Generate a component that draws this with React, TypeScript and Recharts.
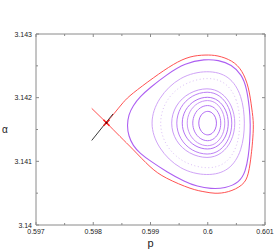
import { ComposedChart, Scatter, XAxis, YAxis, ReferenceArea } from "recharts";

type Pt = [number, number];

// axis ticks (major + minor), labels only on majors
const xTicks = [0.597, 0.5975, 0.598, 0.5985, 0.599, 0.5995, 0.6, 0.6005, 0.601];
const xLabels = ["0.597", "0.598", "0.599", "0.6", "0.601"];
const yTicks = [3.14, 3.1405, 3.141, 3.1415, 3.142, 3.1425, 3.143];
const yLabels = ["3.14", "3.141", "3.142", "3.143"];

// hyperbolic point
const saddle: Pt[] = [[0.598231, 3.141606]];

// homoclinic loop, from the saddle round and back
const separatrix: Pt[] = [
  [0.598231, 3.141606], [0.598362, 3.141748], [0.59852, 3.141921], [0.5987, 3.142074],
  [0.599049, 3.14231], [0.599398, 3.14252], [0.59969, 3.142638], [0.599952, 3.142669],
  [0.600179, 3.142654], [0.600418, 3.142572], [0.600593, 3.142414], [0.600708, 3.142153],
  [0.600768, 3.141838], [0.600796, 3.141575], [0.600782, 3.141307], [0.600759, 3.141102],
  [0.600708, 3.140814], [0.600593, 3.14063], [0.600359, 3.140524], [0.600127, 3.140499],
  [0.599952, 3.14052], [0.59969, 3.140578], [0.599283, 3.140735], [0.598991, 3.140918],
  [0.5987, 3.141181], [0.598467, 3.141391], [0.598231, 3.141606],
];
const stableTail: Pt[] = [[0.598231, 3.141606], [0.597973, 3.141832]];
const unstableTail: Pt[] = [[0.597973, 3.141328], [0.598345, 3.141745]];

// closed orbits, outermost first
const orbitOuter: Pt[] = [
  [0.59859, 3.141559], [0.598616, 3.141732], [0.598694, 3.141874], [0.598817, 3.142016],
  [0.598991, 3.142157], [0.599283, 3.142362], [0.599603, 3.142543], [0.599952, 3.142606],
  [0.600184, 3.142591], [0.600418, 3.14252], [0.600593, 3.142362], [0.60068, 3.142153],
  [0.600729, 3.141838], [0.600747, 3.141575], [0.600734, 3.141307], [0.600712, 3.141087],
  [0.600659, 3.140835], [0.600555, 3.140669], [0.600301, 3.140575], [0.600057, 3.140567],
  [0.599812, 3.140606], [0.599603, 3.140677], [0.599283, 3.140835], [0.598991, 3.141008],
  [0.598817, 3.141126], [0.598694, 3.141244], [0.598616, 3.141402],
];
const orbitL: Pt[] = [
  [0.600659, 3.1416], [0.6006, 3.14204], [0.60038, 3.14235], [0.6, 3.142438],
  [0.59951, 3.14234], [0.59913, 3.1420], [0.598976, 3.1416], [0.59913, 3.1412],
  [0.59951, 3.14086], [0.6, 3.140762], [0.60038, 3.14085], [0.6006, 3.14116],
];
const orbitD: Pt[] = [
  [0.600576, 3.1416], [0.60052, 3.14198], [0.60032, 3.14225], [0.6, 3.142329],
  [0.59957, 3.142231], [0.599255, 3.141965], [0.59914, 3.1416], [0.599255, 3.141236],
  [0.59957, 3.140969], [0.6, 3.140871], [0.60032, 3.14095], [0.60052, 3.14122],
];
const orbit6: Pt[] = [
  [0.600494, 3.1416], [0.600428, 3.141882], [0.600247, 3.142088], [0.6, 3.142164],
  [0.59967, 3.142088], [0.599429, 3.141882], [0.599341, 3.1416], [0.599429, 3.141318],
  [0.59967, 3.141112], [0.6, 3.141036], [0.600247, 3.141112], [0.600428, 3.141318],
];
const orbit5: Pt[] = [
  [0.600439, 3.1416], [0.60038, 3.141854], [0.60022, 3.14204], [0.6, 3.142108],
  [0.599717, 3.14204], [0.59951, 3.141854], [0.599434, 3.1416], [0.59951, 3.141346],
  [0.599717, 3.14116], [0.6, 3.141092], [0.60022, 3.14116], [0.60038, 3.141346],
];
const orbit4: Pt[] = [
  [0.600375, 3.1416], [0.600325, 3.141813], [0.600188, 3.141968], [0.6, 3.142025],
  [0.599767, 3.141968], [0.599596, 3.141813], [0.599534, 3.1416], [0.599596, 3.141388],
  [0.599767, 3.141232], [0.6, 3.141175], [0.600188, 3.141232], [0.600325, 3.141388],
];
const orbit3: Pt[] = [
  [0.600311, 3.1416], [0.600269, 3.141786], [0.600156, 3.141921], [0.6, 3.141971],
  [0.599812, 3.141921], [0.599675, 3.141786], [0.599625, 3.1416], [0.599675, 3.141415],
  [0.599812, 3.141279], [0.6, 3.141229], [0.600156, 3.141279], [0.600269, 3.141415],
];
const orbit2: Pt[] = [
  [0.600238, 3.1416], [0.600206, 3.141745], [0.600119, 3.14185], [0.6, 3.141889],
  [0.599863, 3.14185], [0.599763, 3.141745], [0.599726, 3.1416], [0.599763, 3.141456],
  [0.599863, 3.14135], [0.6, 3.141311], [0.600119, 3.14135], [0.600206, 3.141456],
];
const orbit1: Pt[] = [
  [0.600159, 3.1416], [0.600138, 3.141697], [0.60008, 3.141767], [0.6, 3.141793],
  [0.599918, 3.141767], [0.599858, 3.141697], [0.599836, 3.1416], [0.599858, 3.141504],
  [0.599918, 3.141433], [0.6, 3.141407], [0.60008, 3.141433], [0.600138, 3.141504],
];

const toPts = (arr: Pt[]) => arr.map(([p, a]) => ({ p, a }));

const orbits = [
  { data: orbitD, color: "#dcc0f7", width: 1, dash: "1 2.5" },
  { data: orbitL, color: "#d0a4f7", width: 1 },
  { data: orbit6, color: "#cb9cf7", width: 1 },
  { data: orbit5, color: "#bd80f5", width: 1 },
  { data: orbit4, color: "#b472f4", width: 1 },
  { data: orbit3, color: "#c993f6", width: 1 },
  { data: orbit2, color: "#b676f5", width: 1 },
  { data: orbit1, color: "#b068f4", width: 1 },
  { data: orbitOuter, color: "#ad5ff2", width: 1.1 },
];

const RED = "#ff5252";
const AXIS = "#8a8a8a";
const FONT = "'Liberation Sans', Arial, sans-serif";

const noDot = () => <g />;

const SaddleMark = (props: any) => {
  const { cx, cy } = props;
  return (
    <g>
      <line x1={cx - 3} y1={cy - 3} x2={cx + 3} y2={cy + 3} stroke="#ff2020" strokeWidth={1.5} />
      <line x1={cx - 3} y1={cy + 3} x2={cx + 3} y2={cy - 3} stroke="#e01818" strokeWidth={1.5} />
      <circle cx={cx} cy={cy} r={1.1} fill="#5a0000" />
    </g>
  );
};

const XTick = (props: any) => {
  const { x, payload } = props;
  const major = payload.index % 2 === 0;
  const len = major ? 3 : 2;
  return (
    <g>
      <line x1={x} y1={225} x2={x} y2={225 - len} stroke={AXIS} />
      <line x1={x} y1={34} x2={x} y2={34 + len} stroke={AXIS} />
      {major && (
        <text x={x} y={233.5} textAnchor="middle" fontSize={7} fill="#222" fontFamily={FONT}>
          {xLabels[payload.index / 2]}
        </text>
      )}
    </g>
  );
};

const YTick = (props: any) => {
  const { y, payload } = props;
  const major = payload.index % 2 === 0;
  const len = major ? 3 : 2;
  return (
    <g>
      <line x1={36} y1={y} x2={36 + len} y2={y} stroke={AXIS} />
      <line x1={265} y1={y} x2={265 - len} y2={y} stroke={AXIS} />
      {major && (
        <text x={32} y={y + 2.5} textAnchor="end" fontSize={7} fill="#222" fontFamily={FONT}>
          {yLabels[payload.index / 2]}
        </text>
      )}
    </g>
  );
};

export default function App() {
  return (
    <div style={{ position: "absolute", left: 0, top: 0, background: "#fff" }}>
      <ComposedChart width={275} height={251} margin={{ top: 34, right: 10, bottom: 0, left: 0 }}>
        <XAxis
          type="number"
          dataKey="p"
          domain={[0.597, 0.601]}
          ticks={xTicks}
          interval={0}
          height={26}
          axisLine={false}
          tickLine={false}
          tick={<XTick />}
          allowDataOverflow
          label={{ value: "p", position: "insideBottom", offset: 4, fontSize: 11, fill: "#222", fontFamily: FONT }}
        />
        <YAxis
          type="number"
          dataKey="a"
          domain={[3.14, 3.143]}
          ticks={yTicks}
          interval={0}
          width={36}
          axisLine={false}
          tickLine={false}
          tick={<YTick />}
          allowDataOverflow
          label={{ value: "α", position: "insideLeft", offset: 2, fontSize: 10, fill: "#222", fontFamily: FONT }}
        />
        <ReferenceArea x1={0.597} x2={0.601} y1={3.14} y2={3.143} fill="none" stroke={AXIS} strokeWidth={1} />
        {orbits.map((o, i) => (
          <Scatter
            key={i}
            data={toPts(o.data)}
            line={{ stroke: o.color, strokeWidth: o.width, strokeDasharray: o.dash }}
            lineJointType="basisClosed"
            shape={noDot}
            isAnimationActive={false}
          />
        ))}
        <Scatter
          data={toPts(separatrix)}
          line={{ stroke: RED, strokeWidth: 1 }}
          lineJointType="natural"
          shape={noDot}
          isAnimationActive={false}
        />
        <Scatter
          data={toPts(stableTail)}
          line={{ stroke: RED, strokeWidth: 1 }}
          shape={noDot}
          isAnimationActive={false}
        />
        <Scatter
          data={toPts(unstableTail)}
          line={{ stroke: "#3a3a3a", strokeWidth: 1 }}
          shape={noDot}
          isAnimationActive={false}
        />
        <Scatter data={toPts(saddle)} shape={SaddleMark} isAnimationActive={false} />
      </ComposedChart>
    </div>
  );
}
